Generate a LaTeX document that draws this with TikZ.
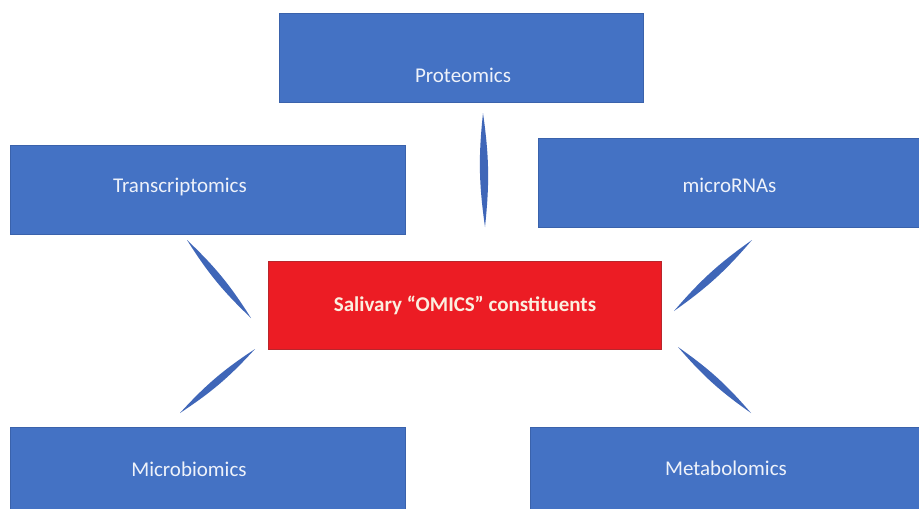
\documentclass[tikz,border=0pt]{standalone}
\usepackage{fontspec}
\setmainfont{Carlito}
\usepackage{tikz}
\usetikzlibrary{positioning, calc}
\definecolor{omicBlue}{HTML}{4472C4}
\definecolor{omicEdge}{HTML}{3A62AB}
\definecolor{coreRed}{HTML}{EC1C24}
\definecolor{coreEdge}{HTML}{B8262C}
\definecolor{spokeBlue}{HTML}{3F66B8}
\definecolor{labelWhite}{HTML}{EEF2FA}
\definecolor{coreText}{HTML}{FBEFDF}

\begin{document}
\begin{tikzpicture}[
    x=1pt, y=-1pt,
    omic/.style={draw=omicEdge, line width=0.8pt, fill=omicBlue,
                 minimum height=89pt, inner sep=0pt},
    omiclabel/.style={text=labelWhite, font=\fontsize{21}{24}\selectfont},
    core/.style={draw=coreEdge, line width=0.8pt, fill=coreRed,
                 minimum width=393pt, minimum height=88pt,
                 text=coreText, font=\bfseries\fontsize{21}{24}\selectfont},
    spoke/.style={fill=spokeBlue},
]
\clip (0,0) rectangle (919,509);
\fill[white] (0,0) rectangle (919,509);

% Omics around the centre
\node[core] (saliva) at (465,305) {Salivary “OMICS” constituents};
\node[omic, minimum width=364pt] (prot) at (461,57.5)
    [label={[omiclabel, shift={(2,17.5)}]center:Proteomics}] {};
\node[omic, minimum width=395pt] (trans) at (207.5,190)
    [label={[omiclabel, shift={(-27.5,-3)}]center:Transcriptomics}] {};
\node[omic, minimum width=381pt] (mirna) at (728.5,183)
    [label={[omiclabel, shift={(1,2)}]center:microRNAs}] {};
\node[omic, minimum width=395pt, minimum height=92pt] (micro) at (207.5,473)
    [label={[omiclabel, shift={(-18.5,-4)}]center:Microbiomics}] {};
\node[omic, minimum width=389pt, minimum height=92pt] (metab) at (724.5,473)
    [label={[omiclabel, shift={(1.5,-5)}]center:Metabolomics}] {};

% Spokes ends
\coordinate (p1) at (483,113);  \coordinate (p2) at (485,227);
\coordinate (t1) at (187,240);  \coordinate (t2) at (251,318);
\coordinate (m1) at (180,413);  \coordinate (m2) at (255,349);
\coordinate (r1) at (752,240);  \coordinate (r2) at (674,311);
\coordinate (b1) at (678,347);  \coordinate (b2) at (751,413);

\fill[spoke] (p1) to[bend left=7] (p2) to[bend left=7] (p1);
\fill[spoke] (t1) to[bend left=7] (t2) to[bend left=7] (t1);
\fill[spoke] (m1) to[bend left=7] (m2) to[bend left=7] (m1);
\fill[spoke] (r1) to[bend left=7] (r2) to[bend left=7] (r1);
\fill[spoke] (b1) to[bend left=7] (b2) to[bend left=7] (b1);
\end{tikzpicture}
\end{document}
